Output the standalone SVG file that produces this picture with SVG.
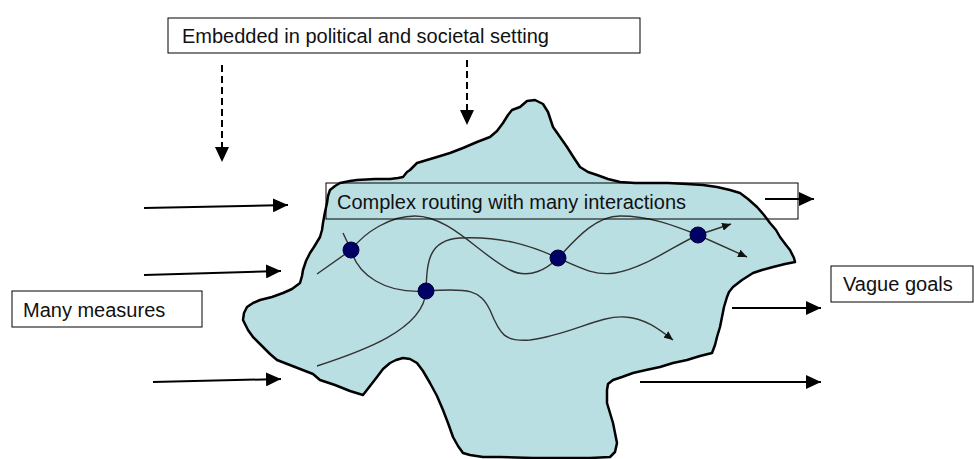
<svg xmlns="http://www.w3.org/2000/svg" width="974" height="459" viewBox="0 0 974 459">
<style>
.lbl{font-family:"Liberation Sans",Arial,sans-serif;font-size:20px;fill:#111}
.box{fill:#fff;stroke:#000;stroke-width:1}
.obox{fill:none;stroke:#000;stroke-width:1}
.big{stroke:#000;stroke-width:2;fill:none;marker-end:url(#ah)}
.dash{stroke:#000;stroke-width:2;fill:none;stroke-dasharray:7 4;marker-end:url(#ah)}
.flow{stroke:#333;stroke-width:1.4;fill:none}
.flowa{stroke:#333;stroke-width:1.4;fill:none;marker-end:url(#sah)}
.node{fill:#000066;stroke:#000033;stroke-width:1}
</style>
<defs>
<marker id="ah" markerUnits="userSpaceOnUse" markerWidth="16" markerHeight="14" refX="15" refY="7" orient="auto">
<path d="M0,0 L15,7 L0,14 Z" fill="#000"/>
</marker>
<marker id="sah" markerUnits="userSpaceOnUse" markerWidth="10" markerHeight="8" refX="9" refY="4" orient="auto">
<path d="M0,0 L9,4 L0,8 Z" fill="#111"/>
</marker>
</defs>
<rect width="974" height="459" fill="#fff"/>
<g id="blob">
<path d="M520,107 L527,101 L535,100 L543,104 L548,112 L553,127 L560,137 L567,147 L574,158 L580,167 L588,172 L597,175 L608,179 L620,182 L635,183 L650,183 L668,183 L687,184 L703,185 L717,187 L730,190 L740,193 L748,199 L757,207 L764,215 L770,223 L776,230 L780,237 L786,245 L790,250 L794,258 L795,262 L785,264 L773,267 L762,270 L753,273 L742,280 L733,287 L729,292 L727,297 L724,307 L722,317 L720,327 L717,337 L715,345 L712,353 L700,356 L687,360 L673,363 L660,367 L646,370 L633,373 L622,377 L613,380 L608,384 L607,390 L607,403 L610,413 L613,423 L615,433 L617,443 L615,452 L610,457 L590,458 L567,458 L533,458 L500,457 L483,457 L470,455 L463,453 L458,446 L453,437 L448,423 L443,410 L437,396 L430,383 L423,371 L417,363 L410,359 L403,358 L396,360 L390,363 L383,369 L377,377 L370,386 L363,395 L350,391 L335,385 L320,380 L313,374 L295,367 L277,360 L270,354 L263,347 L258,342 L253,337 L248,330 L243,320 L244,313 L247,307 L253,303 L260,300 L272,297 L283,293 L292,289 L300,283 L302,276 L303,270 L306,261 L310,253 L314,247 L320,237 L322,230 L323,223 L325,212 L327,203 L328,196 L330,190 L335,186 L340,183 L350,181 L357,180 L375,179 L390,179 L398,178 L403,177 L407,172 L410,170 L414,166 L417,163 L427,160 L437,157 L450,153 L463,148 L477,142 L490,137 L497,131 L503,123 L508,115 L512,110 Z" fill="#BADFE3" stroke="#000" stroke-width="2.5" stroke-linejoin="round"/>
</g>
<g id="connectors">
<path class="dash" d="M222,65 L222,162"/>
<path class="dash" d="M467,60 L467,125"/>
<path class="big" d="M144,208 L288,205"/>
<path class="big" d="M144,275 L281,271"/>
<path class="big" d="M153,382 L281,379"/>
<path class="big" d="M765,199 L814,199"/>
<path class="big" d="M732,308 L821,308"/>
<path class="big" d="M640,382 L821,382"/>
<path class="flow" d="M317,274 L351,250 C365,232 390,216 415,216 C450,216 480,255 510,270 C530,280 548,268 558,258 C575,240 595,216 620,216 C650,216 675,226 698,235"/>
<path class="flowa" d="M698,235 L747,257"/>
<path class="flow" d="M317,366 C360,352 424,330 426,291 C427,262 428,240 460,238 C500,236 530,245 558,258 C580,268 595,276 615,273 C645,268 675,245 698,235"/>
<path class="flowa" d="M698,235 L731,224"/>
<path class="flowa" d="M343,233 L351,250 C358,275 385,294 426,291 C470,288 480,290 490,310 C500,335 505,342 530,340 C570,335 600,315 625,317 C645,318 660,330 673,340"/>
</g>
<g id="n1"><circle class="node" cx="351" cy="250" r="8"/></g>
<g id="n2"><circle class="node" cx="426" cy="291" r="8"/></g>
<g id="n3"><circle class="node" cx="558" cy="258" r="8"/></g>
<g id="n4"><circle class="node" cx="698" cy="235" r="8"/></g>
<g id="setting">
<rect class="box" x="168" y="18" width="472" height="35"/>
<text class="lbl" x="182" y="43">Embedded in political and societal setting</text>
</g>
<g id="routing">
<rect class="obox" x="326" y="183" width="472" height="36"/>
<text class="lbl" x="337" y="209">Complex routing with many interactions</text>
</g>
<g id="measures">
<rect class="box" x="12" y="291" width="190" height="36"/>
<text class="lbl" x="23" y="317">Many measures</text>
</g>
<g id="goals">
<rect class="box" x="831" y="266" width="142" height="36"/>
<text class="lbl" x="843" y="291">Vague goals</text>
</g>
</svg>
